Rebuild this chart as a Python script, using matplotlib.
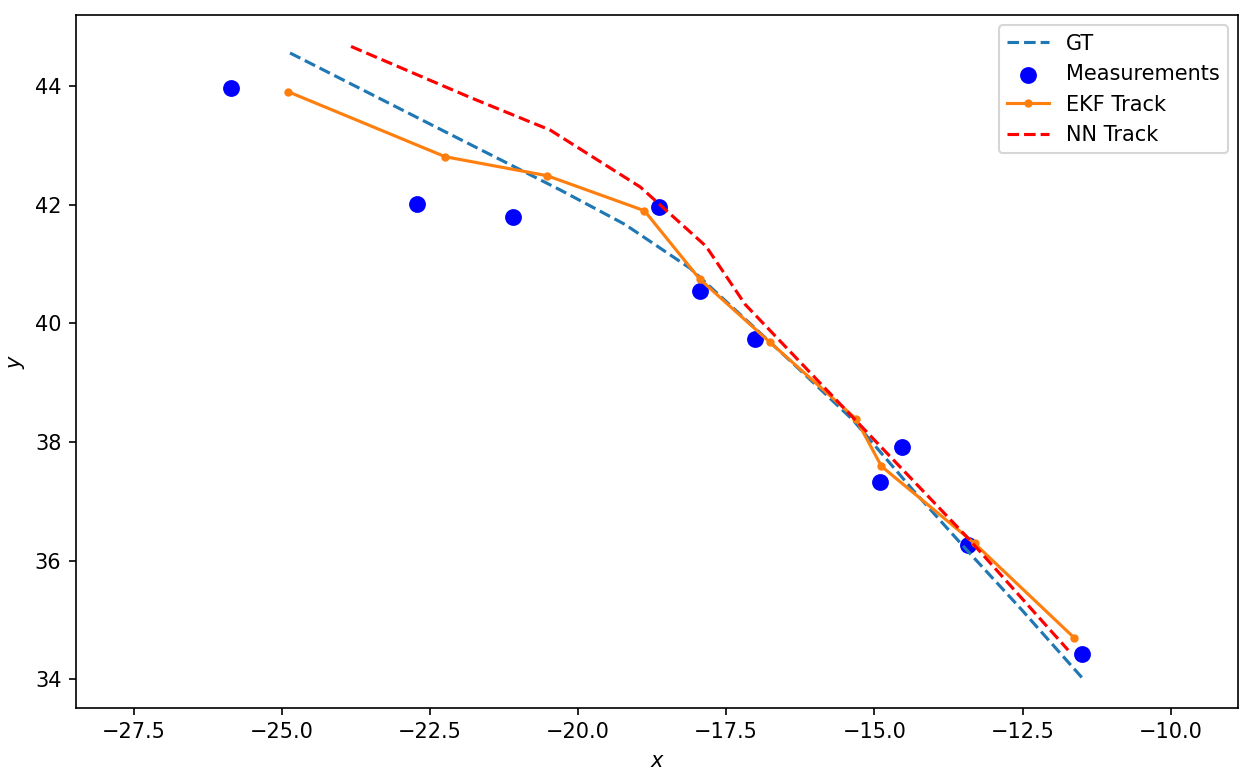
import matplotlib
matplotlib.use("Agg")
import matplotlib.pyplot as plt

# ground truth trajectory
gt_x = [-24.86, -22.16, -20.30, -19.21, -18.11, -17.10, -16.25, -15.36, -14.35, -13.47, -12.54, -11.50]
gt_y = [44.56, 43.19, 42.25, 41.67, 40.93, 40.00, 39.21, 38.37, 37.19, 36.21, 35.20, 34.03]

# noisy measurements
meas_x = [-25.85, -22.72, -21.10, -18.64, -17.95, -17.02, -14.90, -14.54, -13.42, -11.49]
meas_y = [43.97, 42.01, 41.79, 41.96, 40.55, 39.73, 37.32, 37.92, 36.27, 34.43]

# EKF estimates
ekf_x = [-24.90, -22.24, -20.52, -18.88, -17.95, -16.76, -15.31, -14.88, -13.31, -11.63]
ekf_y = [43.91, 42.81, 42.49, 41.90, 40.75, 39.68, 38.39, 37.59, 36.29, 34.70]

# NN estimates
nn_x = [-23.83, -21.82, -20.47, -18.95, -17.84, -17.18, -15.32, -13.43, -11.73]
nn_y = [44.67, 43.81, 43.26, 42.30, 41.30, 40.32, 38.37, 36.39, 34.49]

fig = plt.figure(figsize=(1251 / 150, 778 / 150), dpi=150)
ax = fig.add_subplot(111)
fig.subplots_adjust(left=0.0608, right=0.9898, top=0.9807, bottom=0.0904)

ax.plot(gt_x, gt_y, '--', color='#1f77b4', label='GT')
ax.scatter(meas_x, meas_y, color='blue', s=50, label='Measurements')
ax.plot(ekf_x, ekf_y, '.-', color='#ff7f0e', label='EKF Track')
ax.plot(nn_x, nn_y, 'r--', label='NN Track')

ax.set_xlim(-28.47, -8.86)
ax.set_ylim(33.52, 45.20)
ax.set_xlabel('$x$')
ax.set_ylabel('$y$')
ax.legend(loc='upper right')

fig.savefig('out.png', dpi=150)
